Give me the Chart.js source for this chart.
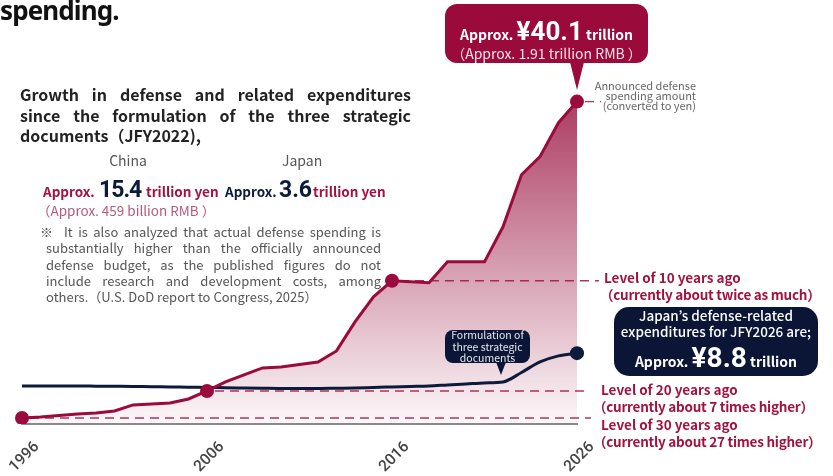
<!DOCTYPE html>
<html>
<head>
<meta charset="utf-8">
<script src="https://cdn.jsdelivr.net/npm/chart.js@4.4.1/dist/chart.umd.min.js"></script>
<style>
  body { margin: 0; background: #fff; }
  #wrap { position: relative; width: 833px; height: 476px; overflow: hidden;
          font-family: "Noto Sans CJK JP", "Noto Sans", sans-serif; }
  #chart { position: absolute; left: 0; top: 0; }
  .t { position: absolute; white-space: nowrap; }
  .num { font-family: Roboto, "Noto Sans", sans-serif; font-weight: 700; }
  .red { color: #a3123f; }
  .navy { color: #0c1a3b; }
  .jl { position: absolute; left: 0; width: 100%; text-align: justify; text-align-last: justify; white-space: nowrap; }
  .lvl { position: absolute; color: #a3123f; font-weight: 700; font-size: 13.5px; line-height: 18px; white-space: nowrap; }
  .par { letter-spacing: -0.25px; }
  .box { position: absolute; }
  .ptr { position: absolute; }
</style>
</head>
<body>
<div id="wrap">
  <canvas id="chart" width="833" height="476"></canvas>

  <div class="t" style="left:0;top:-5px;font-family:'Noto Sans';font-weight:700;font-size:26px;line-height:30px;letter-spacing:-0.9px;color:#111;">spending.</div>

  <div class="t" style="left:20px;top:84px;width:391px;height:62px;font-weight:700;font-size:16px;line-height:20.5px;color:#222;">
    <div class="jl" style="top:0;">Growth in defense and related expenditures</div>
    <div class="jl" style="top:20.5px;">since the formulation of the three strategic</div>
    <div style="position:absolute;top:41px;left:0;white-space:nowrap;">documents（JFY2022),</div>
  </div>

  <div class="t" style="left:108px;top:151px;width:40px;text-align:center;font-size:14px;line-height:18px;color:#555;">China</div>
  <div class="t" style="left:282px;top:151px;width:40px;text-align:center;font-size:14px;line-height:18px;color:#555;">Japan</div>

  <div class="t" style="left:43px;top:176px;line-height:28px;font-size:13.5px;font-weight:700;">
    <span class="red" style="display:inline-block;width:56px;">Approx.</span><span class="num navy" style="display:inline-block;width:47px;font-size:23px;letter-spacing:-1px;">15.4</span><span class="red" style="display:inline-block;width:79px;">trillion yen</span><span class="navy" style="display:inline-block;width:54px;">Approx.</span><span class="num navy" style="display:inline-block;width:34px;font-size:23px;">3.6</span><span class="red">trillion yen</span>
  </div>
  <div class="t" style="left:37px;top:201px;font-size:13.5px;line-height:18px;color:#b55a7d;">（Approx. 459 billion RMB ）</div>

  <div class="t" style="left:40px;top:224px;font-size:13px;line-height:16.3px;color:#555;">※</div>
  <div class="t" style="left:46px;top:224px;width:335px;height:82px;font-size:13px;line-height:16.3px;color:#555;">
    <div class="jl" style="top:0;left:18px;width:317px;">It is also analyzed that actual defense spending is</div>
    <div class="jl" style="top:16.3px;">substantially higher than the officially announced</div>
    <div class="jl" style="top:32.6px;">defense budget, as the published figures do not</div>
    <div class="jl" style="top:48.9px;">include research and development costs, among</div>
    <div style="position:absolute;top:65.2px;left:0;white-space:nowrap;">others.（U.S. DoD report to Congress, 2025）</div>
  </div>

  <!-- China callout -->
  <div class="box" style="left:445px;top:4px;width:203px;height:59px;border-radius:12px;background:#9a0b3b;"></div>
  <div class="ptr" style="left:570px;top:62px;width:14px;height:28px;background:#9a0b3b;clip-path:polygon(0 0,100% 0,50% 100%);"></div>
  <div class="t" style="left:445px;top:16px;width:203px;text-align:center;line-height:30px;font-size:14px;font-weight:700;color:#fff;">Approx. <span class="num" style="font-size:26px;">¥40.1</span> trillion</div>
  <div class="t" style="left:445px;top:44px;width:203px;text-align:center;font-size:14px;line-height:18px;color:#f4e2e8;">（Approx. 1.91 trillion RMB ）</div>

  <div class="t" style="right:137px;top:80px;text-align:right;font-size:11px;line-height:10px;color:#666;">Announced defense<br>spending amount<br>(converted to yen)</div>

  <!-- level labels -->
  <div class="lvl" style="left:604px;top:268px;">Level of 10 years ago</div>
  <div class="lvl par" style="left:600px;top:285px;">（currently about twice as much）</div>
  <div class="lvl" style="left:601px;top:380px;">Level of 20 years ago</div>
  <div class="lvl par" style="left:593px;top:397px;">（currently about 7 times higher）</div>
  <div class="lvl" style="left:601px;top:415px;">Level of 30 years ago</div>
  <div class="lvl par" style="left:593px;top:432px;">（currently about 27 times higher）</div>

  <!-- Japan callout -->
  <div class="box" style="left:614px;top:307px;width:204px;height:69px;border-radius:15px;background:#0b1535;"></div>
  <div class="t" style="left:614px;top:307px;width:204px;text-align:center;font-size:13.5px;line-height:16px;color:#fff;font-weight:500;">Japan’s defense-related<br>expenditures for JFY2026 are;</div>
  <div class="t" style="left:614px;top:342px;width:204px;text-align:center;line-height:32px;font-size:14px;font-weight:700;color:#fff;">Approx. <span class="num" style="font-size:28px;">¥8.8</span> trillion</div>

  <!-- formulation callout -->
  <div class="box" style="left:445px;top:330px;width:85px;height:33px;border-radius:8px;background:#0b1535;"></div>
  <div class="ptr" style="left:496px;top:362px;width:10px;height:13px;background:#0b1535;clip-path:polygon(0 0,100% 0,50% 100%);"></div>
  <div class="t" style="left:445px;top:329px;width:85px;text-align:center;font-size:10.5px;line-height:11.5px;color:#e6e8ef;">Formulation of<br>three strategic<br>documents</div>
</div>

<script>
const years = [1996, 1997, 1998, 1999, 2000, 2001, 2002, 2003, 2004, 2005,
               2006, 2007, 2008, 2009, 2010, 2011, 2012, 2013, 2014, 2015,
               2016, 2017, 2018, 2019, 2020, 2021, 2022, 2023, 2024, 2025, 2026];
// trillion yen
const chinaSpending = [0.75, 0.87, 1.06, 1.25, 1.37, 1.62, 2.37, 2.49, 2.62, 3.11,
                       4.11, 5.23, 6.10, 6.97, 7.10, 7.41, 7.72, 9.09, 12.70, 15.82,
                       17.81, 17.68, 17.56, 20.17, 20.17, 20.17, 24.53, 31.00, 33.25, 37.48, 40.1];
const japanSpending = [4.73, 4.73, 4.73, 4.73, 4.71, 4.69, 4.67, 4.63, 4.61, 4.57,
                       4.55, 4.51, 4.48, 4.45, 4.42, 4.42, 4.42, 4.45, 4.48, 4.55,
                       4.61, 4.67, 4.73, 4.86, 4.98, 5.11, 5.23, 6.41, 7.72, 8.47, 8.81];
const tickYears = [1996, 2006, 2016, 2026];

const crimson = '#9b0a3c';
const navy = '#0c1a3b';

// dashed "level of N years ago" guides
const guides = {
  id: 'guides',
  beforeDatasetsDraw(chart) {
    const { ctx, scales: { x, y } } = chart;
    const lines = [
      [tickYears[2], 599],
      [tickYears[1], 589],
      [tickYears[0], 591],
      [tickYears[3], 601]
    ];
    ctx.save();
    ctx.strokeStyle = 'rgba(160,20,60,0.85)';
    ctx.lineWidth = 1.4;
    ctx.setLineDash([9, 6]);
    lines.forEach(([yr, end]) => {
      const i = years.indexOf(yr);
      const px = x.getPixelForValue(i);
      const py = y.getPixelForValue(chinaSpending[i]);
      ctx.beginPath();
      ctx.moveTo(px + 8, py);
      ctx.lineTo(end, py);
      ctx.stroke();
    });
    ctx.restore();
  }
};

new Chart(document.getElementById('chart'), {
  type: 'line',
  data: {
    labels: years,
    datasets: [
      {
        label: 'China',
        data: chinaSpending,
        borderColor: crimson,
        borderWidth: 3,
        tension: 0,
        fill: 'origin',
        backgroundColor: (c) => {
          const chart = c.chart;
          if (!chart.chartArea) return 'rgba(158,28,72,0.3)';
          const top = chart.scales.y.getPixelForValue(Math.max(...chinaSpending));
          const g = chart.ctx.createLinearGradient(0, top, 0, chart.chartArea.bottom);
          g.addColorStop(0, 'rgba(158,28,72,0.85)');
          g.addColorStop(1, 'rgba(158,28,72,0.03)');
          return g;
        },
        pointRadius: (c) => tickYears.includes(years[c.dataIndex]) ? 7 : 0,
        pointBackgroundColor: crimson,
        pointBorderWidth: 0,
        order: 1
      },
      {
        label: 'Japan',
        data: japanSpending,
        borderColor: navy,
        borderWidth: 3,
        cubicInterpolationMode: 'monotone',
        fill: false,
        pointRadius: (c) => c.dataIndex === years.length - 1 ? 7 : 0,
        pointBackgroundColor: navy,
        pointBorderWidth: 0,
        order: 2
      }
    ]
  },
  options: {
    responsive: false,
    animation: false,
    layout: { padding: { left: 22, right: 256, top: 22, bottom: 0 } },
    plugins: {
      legend: { display: false },
      tooltip: { enabled: false },
      filler: { drawTime: 'beforeDatasetsDraw' }
    },
    scales: {
      x: {
        grid: { display: false },
        border: { display: true, color: '#8a8a8a', width: 2 },
        ticks: {
          autoSkip: false,
          minRotation: 45,
          maxRotation: 45,
          labelOffset: 15,
          padding: 6,
          color: '#444',
          font: { family: 'Roboto', size: 15.5, weight: '500' },
          callback: function (v) {
            const yr = years[v];
            return tickYears.includes(yr) ? String(yr) : '';
          }
        },
        afterFit: (s) => { s.height = 52; s.paddingLeft = 0; s.paddingRight = 0; }
      },
      y: { display: false, min: 0, max: 50 }
    }
  },
  plugins: [guides]
});
</script>
</body>
</html>
